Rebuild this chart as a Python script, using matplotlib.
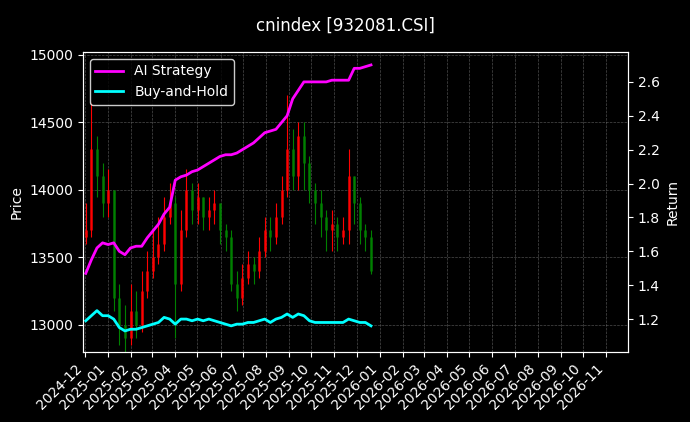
import matplotlib
matplotlib.use("Agg")
import matplotlib.pyplot as plt
import matplotlib.dates as mdates
from matplotlib.ticker import MultipleLocator
import pandas as pd
import numpy as np

dates = pd.date_range("2024-12-02", "2025-12-20", periods=52)
close = [13700,14300,14100,13900,14000,13200,13000,12900,13100,13000,13250,13400,13500,13600,13800,13900,
         13300,13700,14000,13850,13950,13800,13850,13900,13700,13650,13300,13200,13350,13450,13400,13550,
         13700,13650,13800,14000,14300,14100,14400,14200,14000,13900,13800,13700,13750,13650,13700,14100,
         13900,13700,13650,13400]
openp = [13650] + close[:-1]
high = [13900,14650,14400,14200,14150,14000,13300,13150,13300,13250,13400,13550,13700,13800,13950,14050,
        13950,13850,14150,14050,14050,13950,13950,14000,13900,13750,13700,13400,13450,13550,13500,13650,
        13800,13800,13900,14100,14700,14450,14500,14500,14250,14050,14000,13850,13850,13800,13800,14300,
        14100,13950,13750,13700]
low = [13600,13650,13950,13800,13800,13100,12850,12750,12850,12900,12950,13200,13350,13450,13550,13750,
       12900,13250,13650,13750,13750,13700,13700,13750,13600,13550,13250,13100,13150,13300,13300,13350,
       13500,13550,13600,13750,13950,14000,14000,14000,13900,13750,13650,13550,13550,13550,13600,13600,
       13750,13600,13550,13380]
ai_ret = [1.47,1.55,1.62,1.65,1.64,1.65,1.60,1.58,1.62,1.63,1.63,1.68,1.72,1.76,1.82,1.86,2.02,2.04,2.05,2.07,
          2.08,2.10,2.12,2.14,2.16,2.17,2.17,2.18,2.20,2.22,2.24,2.27,2.30,2.31,2.32,2.36,2.40,2.50,2.55,2.60,
          2.60,2.60,2.60,2.60,2.61,2.61,2.61,2.61,2.68,2.68,2.69,2.70]
bh_ret = [1.19,1.22,1.25,1.22,1.22,1.20,1.15,1.13,1.14,1.14,1.15,1.16,1.17,1.18,1.21,1.20,1.17,1.20,1.20,1.19,
          1.20,1.19,1.20,1.19,1.18,1.17,1.16,1.17,1.17,1.18,1.18,1.19,1.20,1.18,1.20,1.21,1.23,1.21,1.23,1.22,
          1.19,1.18,1.18,1.18,1.18,1.18,1.18,1.20,1.19,1.18,1.18,1.16]

fig = plt.figure(figsize=(6.9, 4.22), dpi=100, facecolor="black")
ax = fig.add_axes([0.12, 0.166, 0.79, 0.711])
ax.set_facecolor("black")
for d, o, c, h, l in zip(dates, openp, close, high, low):
    col = "red" if c >= o else "green"
    ax.vlines(d, l, h, color=col, linewidth=0.8)
    ax.vlines(d, min(o, c), max(o, c), color=col, linewidth=2, alpha=0.8)
ax.set_ylim(12800, 15020)
ax.yaxis.set_major_locator(MultipleLocator(500))
ax.set_xlim(pd.Timestamp("2024-11-28"), pd.Timestamp("2026-11-30"))
ax.set_ylabel("Price", color="white")
ax.xaxis.set_major_locator(mdates.MonthLocator())
ax.xaxis.set_major_formatter(mdates.DateFormatter("%Y-%m"))
plt.setp(ax.get_xticklabels(), rotation=45, ha="right")
ax.grid(True, color="gray", linestyle="--", linewidth=0.5, alpha=0.6)
ax.tick_params(colors="white")
for s in ax.spines.values():
    s.set_color("white")

ax2 = ax.twinx()
l1, = ax2.plot(dates, ai_ret, color="magenta", linewidth=2, label="AI Strategy")
l2, = ax2.plot(dates, bh_ret, color="cyan", linewidth=2, label="Buy-and-Hold")
ax2.set_ylim(1.006, 2.777)
ax2.set_ylabel("Return", color="white")
ax2.tick_params(colors="white")
for s in ax2.spines.values():
    s.set_color("white")
leg = ax2.legend(loc="upper left", facecolor="black", edgecolor="white", labelcolor="white")
fig.suptitle("cnindex [932081.CSI]", color="white", y=0.96)
fig.savefig("out.png", facecolor="black")
